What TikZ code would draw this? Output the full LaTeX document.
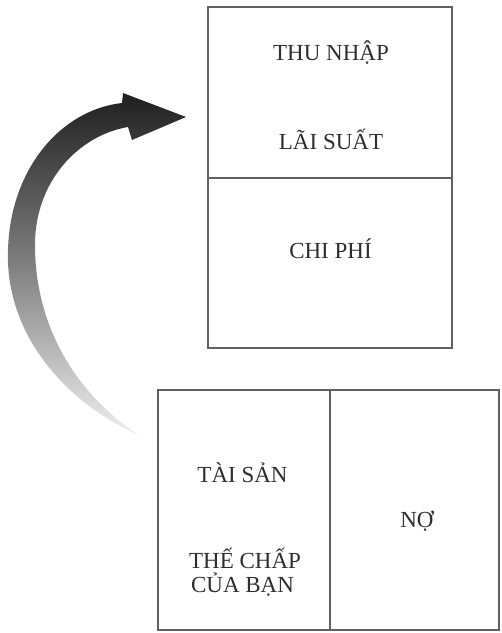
\documentclass[tikz,border=0pt]{standalone}
\usepackage{fontspec}
\setmainfont{Liberation Serif}
\begin{document}
\begin{tikzpicture}[x=1pt,y=-1pt,
  cell/.style={draw=black!62,line width=1.3pt,minimum width=#1,anchor=north west,inner sep=0pt,outer sep=0pt},
  lbl/.style={font=\fontsize{23}{25}\selectfont,text=black!82,anchor=base,inner sep=0pt}]
\useasboundingbox (0,0) rectangle (502,633);
% top box
\node[cell=244pt,minimum height=171pt] (inc) at (208,7) {};
\node[cell=244pt,minimum height=170pt] (exp) at (208,178) {};
% bottom box
\node[cell=172pt,minimum height=240pt] (ast) at (158,390) {};
\node[cell=169pt,minimum height=240pt] (debt) at (330,390) {};
% labels
\node[lbl] (t1) at (331,60) {THU NHẬP};
\node[lbl] (t2) at (331,149) {LÃI SUẤT};
\node[lbl] (t3) at (330.5,258) {CHI PHÍ};
\node[lbl] (t4) at (242.5,482) {TÀI SẢN};
\node[lbl] (t5) at (245,568) {THẾ CHẤP};
\node[lbl] (t6) at (242.5,592) {CỦA BẠN};
\node[lbl] (t7) at (417,527) {NỢ};
% curved arrow
\shade[top color=black!88,bottom color=black!6,middle color=black!50]
  (140,436) .. controls (60,400) and (5,330) .. (8,250)
  .. controls (10,170) and (60,110) .. (122,103)
  -- (123,93) -- (186,117) -- (132,140) -- (128,127)
  .. controls (80,135) and (35,180) .. (35,245)
  .. controls (35,320) and (70,390) .. (140,436) -- cycle;
\end{tikzpicture}
\end{document}
